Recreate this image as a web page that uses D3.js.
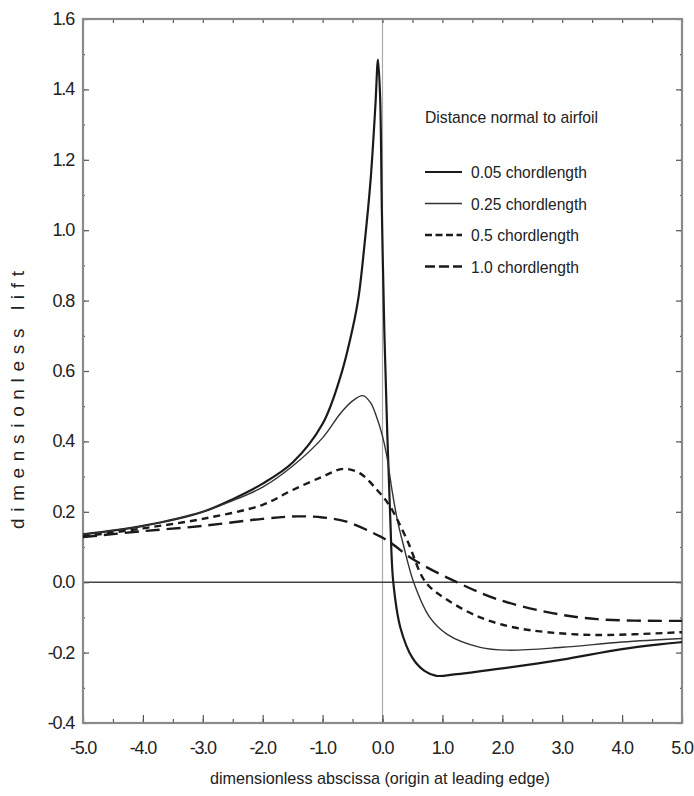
<!DOCTYPE html>
<html>
<head>
<meta charset="utf-8">
<script src="https://cdn.jsdelivr.net/npm/d3@7"></script>
<style>
  body { margin: 0; background: #fff; }
  text { font-family: "Liberation Sans Narrow", "Liberation Sans", Arial, sans-serif; fill: #222; }
</style>
</head>
<body>
<div id="chart"></div>
<script>
// series data
const x005 = [-5, -4, -3, -2.5, -2, -1.5, -1, -0.7, -0.5, -0.4, -0.3, -0.2, -0.12, -0.075, -0.04, -0.01, 0.03, 0.08, 0.13, 0.18, 0.3, 0.5, 0.7, 0.9, 1.2, 1.5, 2, 3, 4, 5]
const y005 = [0.136, 0.16, 0.20, 0.236, 0.28, 0.34, 0.45, 0.585, 0.72, 0.81, 0.96, 1.14, 1.35, 1.485, 1.38, 1.05, 0.72, 0.42, 0.18, 0.0, -0.13, -0.215, -0.252, -0.266, -0.262, -0.256, -0.245, -0.22, -0.19, -0.17]

const x025 = [-5, -4, -3, -2.5, -2, -1.5, -1, -0.7, -0.5, -0.33, -0.2, -0.1, 0.0, 0.07, 0.16, 0.25, 0.35, 0.52, 0.79, 1.08, 1.63, 2.08, 3, 4, 5]
const y025 = [0.136, 0.16, 0.20, 0.232, 0.27, 0.33, 0.41, 0.48, 0.515, 0.53, 0.51, 0.47, 0.415, 0.36, 0.26, 0.175, 0.105, 0.0, -0.1, -0.148, -0.185, -0.193, -0.185, -0.17, -0.16]

const x05 = [-5, -4, -3, -2, -1.5, -1, -0.66, -0.38, -0.09, 0.13, 0.41, 0.72, 1.08, 1.63, 2.18, 2.75, 3.58, 5]
const y05 = [0.13, 0.153, 0.18, 0.22, 0.262, 0.30, 0.322, 0.31, 0.262, 0.214, 0.12, 0.0, -0.05, -0.1, -0.128, -0.142, -0.15, -0.142]

const x10 = [-5, -4, -3, -2, -1.43, -1, -0.6, -0.04, 0.13, 0.51, 1.24, 1.91, 2.75, 3.58, 5]
const y10 = [0.128, 0.145, 0.16, 0.18, 0.187, 0.184, 0.172, 0.13, 0.113, 0.065, 0.0, -0.048, -0.085, -0.105, -0.11]

const xTicks = [-5, -4, -3, -2, -1, 0, 1, 2, 3, 4, 5]
const yTicks = [-0.4, -0.2, 0, 0.2, 0.4, 0.6, 0.8, 1.0, 1.2, 1.4, 1.6]
const seriesNames = ["0.05 chordlength", "0.25 chordlength", "0.5 chordlength", "1.0 chordlength"]

const W = 694, H = 796
const margin = {top: 19, right: 12, bottom: 73, left: 83}
const iw = W - margin.left - margin.right
const ih = H - margin.top - margin.bottom

const svg = d3.select("#chart").append("svg")
  .attr("width", W).attr("height", H)

const g = svg.append("g").attr("transform", `translate(${margin.left},${margin.top})`)

const x = d3.scaleLinear().domain([-5, 5]).range([0, iw])
const y = d3.scaleLinear().domain([-0.4, 1.6]).range([ih, 0])

const fmt = d => d3.format(".1f")(d).replace("\u2212", "-")

// styles per series
const styles = [
  {width: 2.2, dash: null, color: "#1a1a1a"},
  {width: 1.4, dash: null, color: "#333"},
  {width: 2.4, dash: "7,5", color: "#1a1a1a"},
  {width: 2.4, dash: "14,7", color: "#1a1a1a"}
]
const series = [
  x005.map((v, i) => [v, y005[i]]),
  x025.map((v, i) => [v, y025[i]]),
  x05.map((v, i) => [v, y05[i]]),
  x10.map((v, i) => [v, y10[i]])
]

// zero lines
g.append("line")
  .attr("x1", x(0)).attr("x2", x(0)).attr("y1", 0).attr("y2", ih)
  .attr("stroke", "#aaa").attr("stroke-width", 1.2)
g.append("line")
  .attr("x1", 0).attr("x2", iw).attr("y1", y(0)).attr("y2", y(0))
  .attr("stroke", "#444").attr("stroke-width", 1.6)

// axes: ticks inside, minor ticks every half step
function tickAxis(axisGen, cls, transform) {
  const a = g.append("g").attr("class", cls)
  if (transform) a.attr("transform", transform)
  a.call(axisGen)
  a.select(".domain").remove()
  a.selectAll("line").attr("stroke", "#555").attr("stroke-width", 1.2)
  return a
}

const xMinor = d3.range(-5, 5.01, 0.5)
const yMinor = d3.range(-0.4, 1.61, 0.1)

tickAxis(d3.axisBottom(x).tickValues(xTicks).tickSize(-8).tickFormat(""), "xb", `translate(0,${ih})`)
tickAxis(d3.axisBottom(x).tickValues(xMinor).tickSize(-4).tickFormat(""), "xb2", `translate(0,${ih})`)
tickAxis(d3.axisTop(x).tickValues(xMinor).tickSize(-4).tickFormat(""), "xt")
tickAxis(d3.axisLeft(y).tickValues(yTicks).tickSize(-6).tickFormat(""), "yl")
tickAxis(d3.axisLeft(y).tickValues(yMinor).tickSize(-2).tickFormat(""), "yl2")
tickAxis(d3.axisRight(y).tickValues(yTicks).tickSize(-6).tickFormat(""), "yr", `translate(${iw},0)`)
tickAxis(d3.axisRight(y).tickValues(yMinor).tickSize(-2).tickFormat(""), "yr2", `translate(${iw},0)`)

// tick labels
g.append("g").selectAll("text").data(xTicks).join("text")
  .attr("x", d => x(d)).attr("y", ih + 31)
  .attr("text-anchor", "middle")
  .style("font-size", "18px").style("letter-spacing", "-1.2px")
  .text(fmt)

g.append("g").selectAll("text").data(yTicks).join("text")
  .attr("x", -9).attr("y", d => y(d) + 6)
  .attr("text-anchor", "end")
  .style("font-size", "18px").style("letter-spacing", "-1.2px")
  .text(fmt)

// frame
g.append("rect")
  .attr("width", iw).attr("height", ih)
  .attr("fill", "none").attr("stroke", "#8a8a8a").attr("stroke-width", 2.2)

// curves
const line = d3.line().x(d => x(d[0])).y(d => y(d[1])).curve(d3.curveCatmullRom.alpha(0.5))
g.append("g").selectAll("path").data(series).join("path")
  .attr("d", line)
  .attr("fill", "none")
  .attr("stroke", (d, i) => styles[i].color)
  .attr("stroke-width", (d, i) => styles[i].width)
  .attr("stroke-dasharray", (d, i) => styles[i].dash)

// legend
const leg = svg.append("g").attr("transform", "translate(425,117)")
leg.append("text").attr("x", 0).attr("y", 6)
  .style("font-size", "17px")
  .attr("textLength", 173).attr("lengthAdjust", "spacingAndGlyphs")
  .text("Distance normal to airfoil")

const rows = leg.selectAll("g.row").data(seriesNames).join("g")
  .attr("class", "row")
  .attr("transform", (d, i) => `translate(0,${55 + i * 31.5})`)
rows.append("line")
  .attr("x1", 0).attr("x2", 37).attr("y1", 0).attr("y2", 0)
  .attr("stroke", (d, i) => styles[i].color)
  .attr("stroke-width", (d, i) => styles[i].width)
  .attr("stroke-dasharray", (d, i) => i === 2 ? "7,3.5" : i === 3 ? "10,4" : null)
rows.append("text")
  .attr("x", 46).attr("y", 6)
  .style("font-size", "17px")
  .attr("textLength", (d, i) => i < 2 ? 116 : 108).attr("lengthAdjust", "spacingAndGlyphs")
  .text(d => d)

// axis titles
svg.append("text")
  .attr("x", 380).attr("y", 784)
  .attr("text-anchor", "middle")
  .style("font-size", "17px")
  .attr("textLength", 340).attr("lengthAdjust", "spacingAndGlyphs")
  .text("dimensionless abscissa (origin at leading edge)")

svg.append("text")
  .attr("transform", "translate(24,400) rotate(-90)")
  .attr("text-anchor", "middle")
  .style("font-size", "19px")
  .attr("textLength", 258).attr("lengthAdjust", "spacing")
  .text("dimensionless lift")
</script>
</body>
</html>
